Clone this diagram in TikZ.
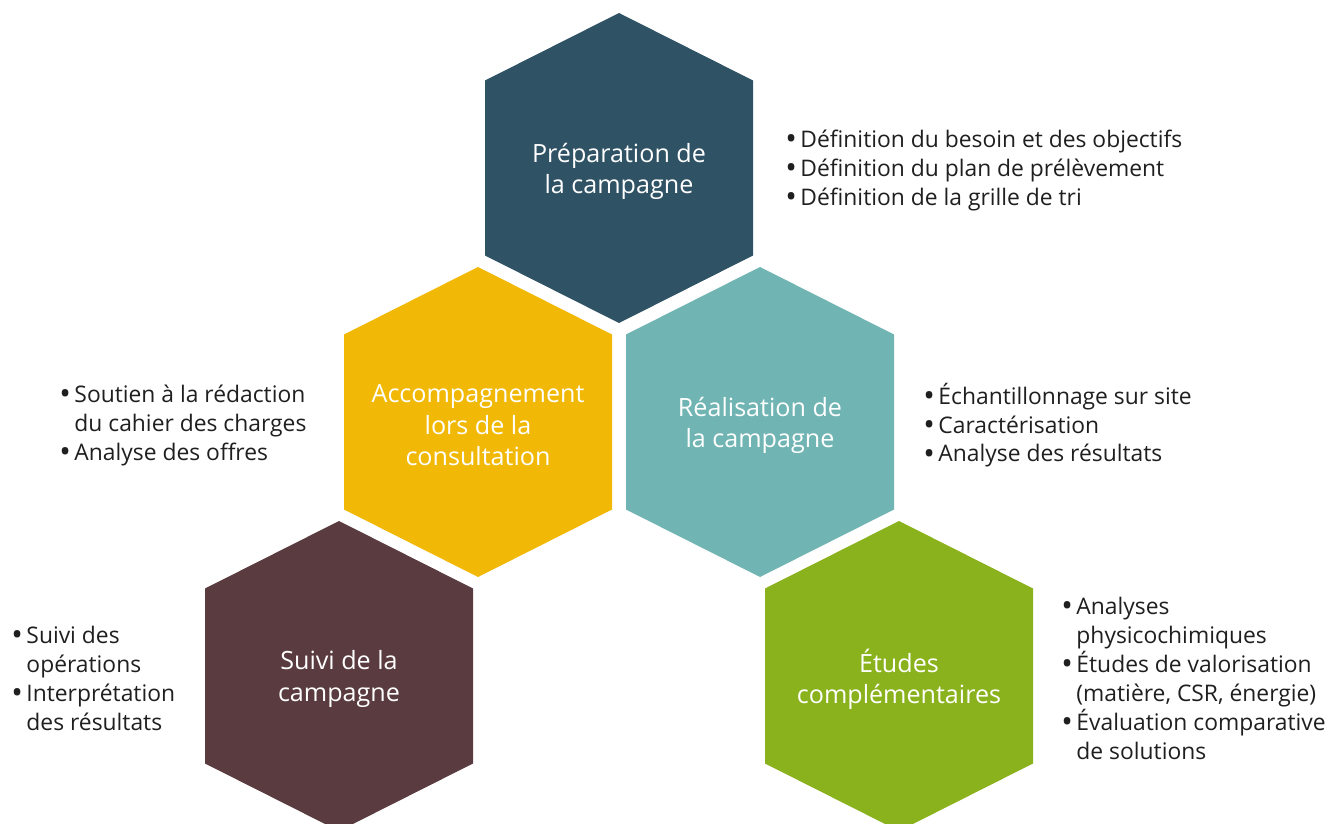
\documentclass[tikz,border=0pt]{standalone}
\usepackage{fontspec}
\setmainfont{Open Sans}
\usetikzlibrary{positioning}

\definecolor{prepblue}{HTML}{305265}
\definecolor{consyellow}{HTML}{F1B805}
\definecolor{realteal}{HTML}{70B5B3}
\definecolor{suivibrown}{HTML}{5A3C40}
\definecolor{etudgreen}{HTML}{8AB21C}

\newcommand{\itm}{\makebox[8.6pt][l]{\raisebox{-0.2ex}{\scalebox{1.35}{\textbullet}}}}
\newcommand{\cont}{\hspace*{8.6pt}}

\begin{document}
\begin{tikzpicture}[x=0.02cm, y=-0.02cm,
            % Styles
            hexlabel/.style={text=white, align=center, inner sep=0pt, yshift=-1.8pt, font=\fontsize{14.3}{17.9}\selectfont},
            tasks/.style={anchor=west, align=left, inner sep=0pt, yshift=-1.2pt, text=black!88, font=\fontsize{13}{16.5}\selectfont}
        ]

        \useasboundingbox (0,0) rectangle (1325,824);
        \clip (0,0) rectangle (1325,824);

        % Hexagons
        \foreach \cx/\cy/\col in {619/168/prepblue, 478/422/consyellow, 760/422/realteal, 339/676/suivibrown, 899/676/etudgreen}
            \fill [\col] (\cx,\cy) ++(0,-155) -- ++(134,67.5) -- ++(0,175) -- ++(-134,67.5) -- ++(-134,-67.5) -- ++(0,-175) -- cycle;

        % Labels
        \node [hexlabel] (prep) at (619,168) {Préparation de\\la campagne};
        \node [hexlabel] (cons) at (478,422) {Accompagnement\\lors de la\\consultation};
        \node [hexlabel] (real) at (760,422) {Réalisation de\\la campagne};
        \node [hexlabel] (suivi) at (339,676) {Suivi de la\\campagne};
        \node [hexlabel] (etud) at (899,676) {Études\\complémentaires};

        % Task lists
        \node [tasks] (preptasks) at (785,168) {
            \itm Définition du besoin et des objectifs\\
            \itm Définition du plan de prélèvement\\
            \itm Définition de la grille de tri};
        \node [tasks] (realtasks) at (923,423) {
            \itm Échantillonnage sur site\\
            \itm Caractérisation\\
            \itm Analyse des résultats};
        \node [tasks] (constasks) at (59,423) {
            \itm Soutien à la rédaction\\
            \cont du cahier des charges\\
            \itm Analyse des offres};
        \node [tasks] (suivitasks) at (11,676) {
            \itm Suivi des\\
            \cont opérations\\
            \itm Interprétation\\
            \cont des résultats};
        \node [tasks] (etudtasks) at (1061,676) {
            \itm Analyses\\
            \cont physicochimiques\\
            \itm Études de valorisation\\
            \cont (matière, CSR, énergie)\\
            \itm Évaluation comparative\\
            \cont de solutions};

    \end{tikzpicture}
\end{document}
